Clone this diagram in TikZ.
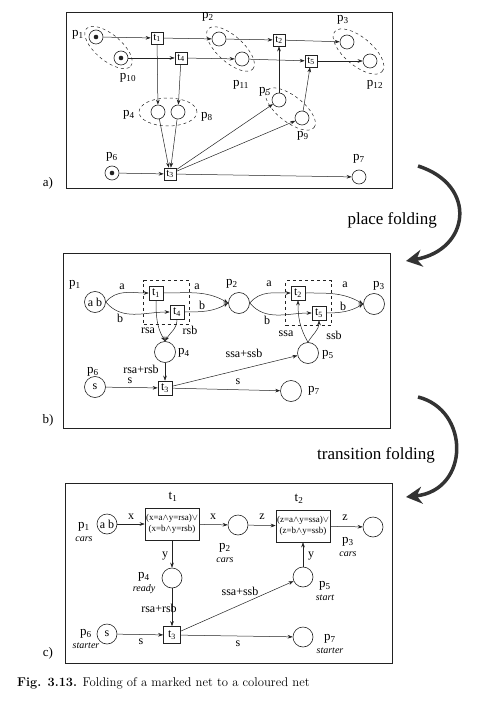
\documentclass[tikz,border=0pt]{standalone}
\usepackage{fontspec}
\newfontfamily\netfont{Liberation Serif}
\usetikzlibrary{arrows.meta,calc,fit,positioning}
\definecolor{NetInk}{HTML}{222222}
\definecolor{FoldGrey}{HTML}{333333}
\newcommand{\pn}[1]{p\textsubscript{#1}}
\newcommand{\tn}[1]{t\textsubscript{#1}}
\newcommand{\srt}[2]{\pn{#1}\\{\itshape\fontsize{10}{10}\selectfont #2}}

\begin{document}
\begin{tikzpicture}[x=1pt,y=-1pt,font=\netfont,
  place/.style={circle,draw=NetInk,line width=0.6pt,inner sep=0pt},
  pa/.style={place,minimum size=14pt},
  pb/.style={place,minimum size=21pt,font=\netfont\fontsize{12}{12}\selectfont},
  pc/.style={place,minimum size=20pt,font=\netfont\fontsize{12}{12}\selectfont},
  trans/.style={rectangle,draw=NetInk,line width=0.6pt,inner sep=0pt},
  ta/.style={trans,minimum size=12pt,font=\netfont\fontsize{11}{11}\selectfont},
  tb/.style={trans,minimum size=14pt,font=\netfont\fontsize{12}{12}\selectfont},
  tc/.style={trans,minimum size=17pt,font=\netfont\fontsize{12}{12}\selectfont},
  guard/.style={trans,minimum width=54pt,minimum height=32pt,align=center,
    font=\netfont\fontsize{9}{11}\selectfont},
  plab/.style={inner sep=0pt,font=\netfont\fontsize{13}{13}\selectfont},
  elab/.style={inner sep=0pt,font=\netfont\fontsize{12}{12}\selectfont},
  sortlab/.style={inner sep=0pt,align=center,font=\netfont\fontsize{13}{12.5}\selectfont},
  arc/.style={NetInk,line width=0.5pt,-{Stealth[length=5pt,width=3.6pt]}},
  fold/.style={NetInk,dashed,line width=0.5pt},
  group/.style={draw=NetInk,dashed,line width=0.5pt,inner sep=5pt},
  frame/.style={draw=NetInk,line width=0.8pt},
  foldarrow/.style={FoldGrey,line width=3.5pt,-{Stealth[length=16pt,width=17pt]}},
]
  \useasboundingbox (0,0) rectangle (480,708);

  % a) marked net
  \draw[frame] (66,12) rectangle (392,188);
  \node[plab] (tagA) at (48,183) {a)};
  \node[pa] (ap1) at (96,37) {};
  \node[pa] (ap10) at (121,58) {};
  \node[ta] (at1) at (157,38) {\tn{1}};
  \node[ta] (at4) at (181,58) {\tn{4}};
  \node[pa] (ap2) at (219,39) {};
  \node[pa] (ap11) at (242,59) {};
  \node[ta] (at2) at (279,40) {\tn{2}};
  \node[ta] (at5) at (311,61) {\tn{5}};
  \node[pa] (ap3) at (347,42) {};
  \node[pa] (ap12) at (370,61) {};
  \node[pa] (ap4) at (158,112) {};
  \node[pa] (ap8) at (178,112) {};
  \node[pa] (ap5) at (279,100) {};
  \node[pa] (ap9) at (302,118) {};
  \node[pa] (ap6) at (112,173) {};
  \node[ta] (at3) at (170,174) {\tn{3}};
  \node[pa] (ap7) at (359,177) {};
  \fill[NetInk] (ap1) circle[radius=2.3pt];
  \fill[NetInk] (ap10) circle[radius=2.3pt];
  \fill[NetInk] (ap6) circle[radius=2.3pt];
  \node[plab] (ap1l) at (78,35) {\pn{1}};
  \node[plab] (ap10l) at (128,78) {\pn{10}};
  \node[plab] (ap2l) at (208,17) {\pn{2}};
  \node[plab] (ap11l) at (241,85) {\pn{11}};
  \node[plab] (ap3l) at (343,20) {\pn{3}};
  \node[plab] (ap12l) at (375,85) {\pn{12}};
  \node[plab] (ap4l) at (129,115) {\pn{4}};
  \node[plab] (ap8l) at (207,117) {\pn{8}};
  \node[plab] (ap5l) at (265,92) {\pn{5}};
  \node[plab] (ap9l) at (303,136) {\pn{9}};
  \node[plab] (ap6l) at (112,157) {\pn{6}};
  \node[plab] (ap7l) at (359,159) {\pn{7}};
  \draw[fold] ($(ap1)!.5!(ap10)$) ellipse[x radius=29pt,y radius=13pt,rotate=-40];
  \draw[fold] ($(ap2)!.5!(ap11)$) ellipse[x radius=30pt,y radius=13pt,rotate=-42];
  \draw[fold] ($(ap3)!.5!(ap12)$) ellipse[x radius=31pt,y radius=14pt,rotate=-40];
  \draw[fold] ($(ap4)!.5!(ap8)$) ellipse[x radius=29pt,y radius=14pt];
  \draw[fold] ($(ap5)!.5!(ap9)$) ellipse[x radius=30pt,y radius=13pt,rotate=-38];
  \draw[arc] (ap1) -- (at1);
  \draw[arc] (ap10) -- (at4);
  \draw[arc] (at1) -- (ap2);
  \draw[arc] (at4) -- (ap11);
  \draw[arc] (ap2) -- (at2);
  \draw[arc] (ap11) -- (at5);
  \draw[arc] (at2) -- (ap3);
  \draw[arc] (at5) -- (ap12);
  \draw[arc] (at1) -- (ap4);
  \draw[arc] (at4) -- (ap8);
  \draw[arc] (ap4) -- (at3);
  \draw[arc] (ap8) -- (at3);
  \draw[arc] (ap6) -- (at3);
  \draw[arc] (at3) -- (ap7);
  \draw[arc] (at3) -- (ap5);
  \draw[arc] (at3) -- (ap9);
  \draw[arc] (ap5) -- (at2);
  \draw[arc] (ap9) -- (at5);

  % place folding
  \draw[foldarrow] (418,166) .. controls (478,185) and (470,250) .. (406,261);
  \node[anchor=east,inner sep=0pt,font=\netfont\fontsize{17}{17}\selectfont]
    (placefold) at (437,220) {place folding};

  % b) folded places
  \draw[frame] (63,253) rectangle (390,428);
  \node[plab] (tagB) at (48,420) {b)};
  \node[pb] (bp1) at (95,302) {a b};
  \node[tb] (bt1) at (156,293) {\tn{1}};
  \node[tb] (bt4) at (177,312) {\tn{4}};
  \node[pb] (bp2) at (239,303) {};
  \node[tb] (bt2) at (298,293) {\tn{2}};
  \node[tb] (bt5) at (319,313) {\tn{5}};
  \node[pb] (bp3) at (374,304) {};
  \node[pb] (bp4) at (165,352) {};
  \node[pb] (bp5) at (308,353) {};
  \node[pb] (bp6) at (95,387) {s};
  \node[tb] (bt3) at (165,388) {\tn{3}};
  \node[pb] (bp7) at (291,391) {};
  \node[group,fit=(bt1)(bt4)] (bg1) {};
  \node[group,fit=(bt2)(bt5)] (bg2) {};
  \node[plab] (bp1l) at (75,285) {\pn{1}};
  \node[plab] (bp2l) at (232,284) {\pn{2}};
  \node[plab] (bp3l) at (379,286) {\pn{3}};
  \node[plab] (bp4l) at (184,353) {\pn{4}};
  \node[plab] (bp5l) at (328,355) {\pn{5}};
  \node[plab] (bp6l) at (93,372) {\pn{6}};
  \node[plab] (bp7l) at (314,391) {\pn{7}};
  \draw[arc] (bp1.east) to[out=50,in=180] (bt1);
  \draw[arc] (bp1.east) to[out=-50,in=180] (bt4);
  \draw[arc] (bt1) to[out=0,in=150] (bp2.west);
  \draw[arc] (bt4) to[out=0,in=210] (bp2.west);
  \draw[arc] (bp2.east) to[out=50,in=180] (bt2);
  \draw[arc] (bp2.east) to[out=-50,in=180] (bt5);
  \draw[arc] (bt2) to[out=0,in=150] (bp3.west);
  \draw[arc] (bt5) to[out=0,in=210] (bp3.west);
  \draw[arc] (bt1) to[out=-90,in=120] (bp4.north);
  \draw[arc] (bt4) to[out=-90,in=60] (bp4.north);
  \draw[arc] (bp5.north) to[out=120,in=-90] (bt2);
  \draw[arc] (bp5.north) to[out=60,in=-90] (bt5);
  \draw[arc] (bp4) -- (bt3);
  \draw[arc] (bp6) -- (bt3);
  \draw[arc] (bt3) -- (bp5);
  \draw[arc] (bt3) -- (bp7);
  \node[elab] (ba1) at (122,287) {a};
  \node[elab] (bb1) at (120,318) {b};
  \node[elab] (ba2) at (197,287) {a};
  \node[elab] (bb2) at (202,305) {b};
  \node[elab] (ba3) at (269,284) {a};
  \node[elab] (bb3) at (267,320) {b};
  \node[elab] (ba4) at (345,285) {a};
  \node[elab] (bb4) at (343,306) {b};
  \node[elab] (brsa) at (148,331) {rsa};
  \node[elab] (brsb) at (190,330) {rsb};
  \node[elab] (bssa) at (286,334) {ssa};
  \node[elab] (bssb) at (334,335) {ssb};
  \node[elab] (bss) at (244,353) {ssa+ssb};
  \node[elab] (brs) at (141,369) {rsa+rsb};
  \node[elab] (bs1) at (130,381) {s};
  \node[elab] (bs2) at (238,382) {s};

  % transition folding
  \draw[foldarrow] (418,397) .. controls (470,410) and (470,490) .. (406,497);
  \node[anchor=east,inner sep=0pt,font=\netfont\fontsize{17}{17}\selectfont]
    (transfold) at (435,455) {transition folding};

  % c) coloured net
  \draw[frame] (65,483) rectangle (392,663);
  \node[plab] (tagC) at (48,653) {c)};
  \node[pc] (cp1) at (107,524) {a b};
  \node[guard] (ct1) at (172,524) {(x=a$\wedge$y=rsa)$\vee$\\(x=b$\wedge$y=rsb)};
  \node[pc] (cp2) at (238,525) {};
  \node[guard] (ct2) at (303,526) {(z=a$\wedge$y=ssa)$\vee$\\(z=b$\wedge$y=ssb)};
  \node[pc] (cp3) at (373,527) {};
  \node[pc] (cp4) at (172,578) {};
  \node[pc] (cp5) at (303,577) {};
  \node[pc] (cp6) at (107,634) {s};
  \node[tc] (ct3) at (172,635) {\tn{3}};
  \node[pc] (cp7) at (303,637) {};
  \node[plab] (ct1l) at (173,497) {\tn{1}};
  \node[plab] (ct2l) at (299,499) {\tn{2}};
  \node[sortlab] (cp1l) at (84,532) {\srt{1}{cars}};
  \node[sortlab] (cp2l) at (225,553) {\srt{2}{cars}};
  \node[sortlab] (cp3l) at (348,547) {\srt{3}{cars}};
  \node[sortlab] (cp4l) at (144,583) {\srt{4}{ready}};
  \node[sortlab] (cp5l) at (325,591) {\srt{5}{start}};
  \node[sortlab] (cp6l) at (86,639) {\srt{6}{starter}};
  \node[sortlab] (cp7l) at (330,644) {\srt{7}{starter}};
  \draw[arc] (cp1) -- (ct1);
  \draw[arc] (ct1) -- (cp2);
  \draw[arc] (cp2) -- (ct2);
  \draw[arc] (ct2) -- (cp3);
  \draw[arc] (ct1) -- (cp4);
  \draw[arc] (cp4) -- (ct3);
  \draw[arc] (cp6) -- (ct3);
  \draw[arc] (ct3) -- (cp7);
  \draw[arc] (ct3) -- (cp5);
  \draw[arc] (cp5) -- (ct2);
  \node[elab] (cx1) at (131,517) {x};
  \node[elab] (cx2) at (213,517) {x};
  \node[elab] (cz1) at (262,517) {z};
  \node[elab] (cz2) at (345,518) {z};
  \node[elab] (cy1) at (165,556) {y};
  \node[elab] (cy2) at (311,556) {y};
  \node[elab] (css) at (240,591) {ssa+ssb};
  \node[elab] (crs) at (159,608) {rsa+rsb};
  \node[elab] (cs1) at (141,642) {s};
  \node[elab] (cs2) at (238,644) {s};

  % caption
  \node[anchor=west,inner sep=0pt,font=\fontsize{12.7}{12.7}\selectfont] (caption)
    at (17,683) {\textbf{Fig. 3.13.} Folding of a marked net to a coloured net};
\end{tikzpicture}
\end{document}
